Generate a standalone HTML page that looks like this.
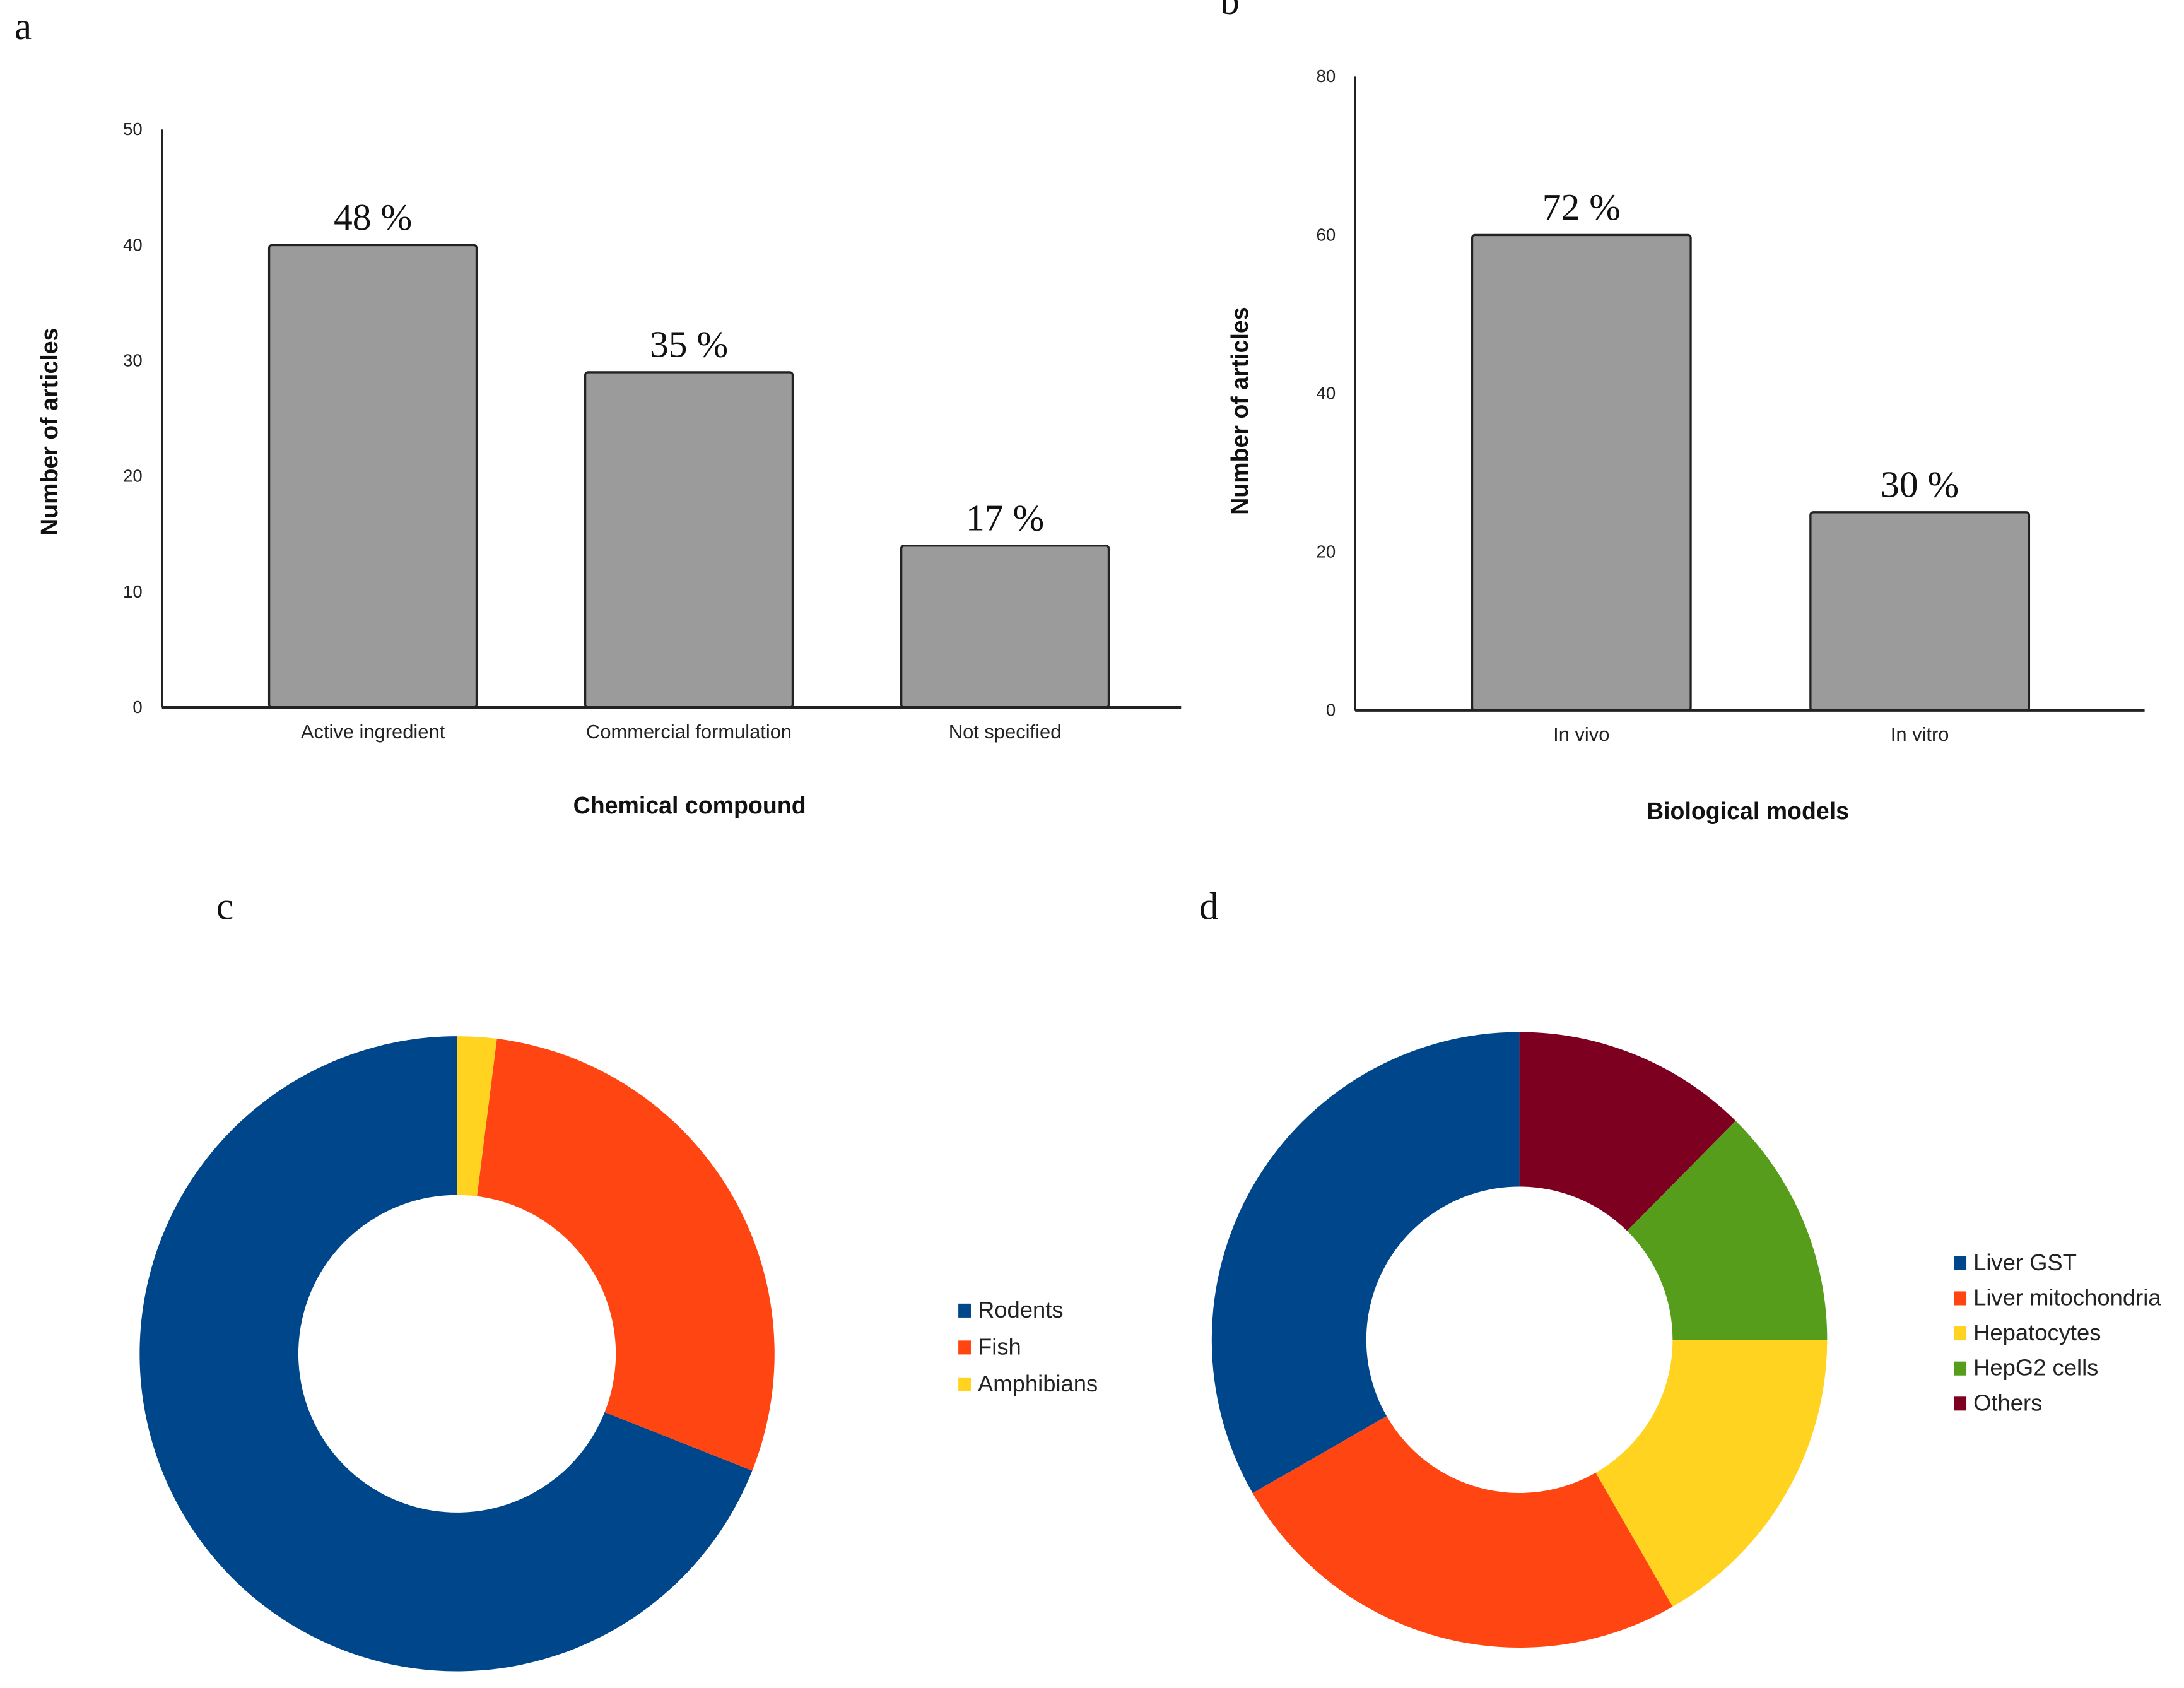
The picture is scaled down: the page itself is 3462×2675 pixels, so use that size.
<!DOCTYPE html>
<html><head><meta charset="utf-8"><style>
html,body{margin:0;padding:0;background:#fff;}
svg{display:block;}
.tk{font-family:"Liberation Sans",sans-serif;font-size:12.5px;fill:#222;}
.at{font-family:"Liberation Sans",sans-serif;font-size:17px;font-weight:bold;fill:#111;}
.xl{font-family:"Liberation Sans",sans-serif;font-size:14px;fill:#222;}
.pl{font-family:"Liberation Serif",serif;font-size:27px;fill:#111;}
.lg{font-family:"Liberation Sans",sans-serif;font-size:16.5px;fill:#222;}
.pn{font-family:"Liberation Serif",serif;font-size:28px;fill:#111;}
</style></head><body>
<svg id="fig" width="3462" height="2675" viewBox="0 0 1568 1212" xmlns="http://www.w3.org/2000/svg">
<rect width="1568" height="1212" fill="#fff"/>
<text class="pn" x="10" y="28">a</text>
<text class="pn" x="876" y="10">b</text>
<text class="pn" x="155" y="660">c</text>
<text class="pn" x="861" y="660">d</text>
<g id="ga"></g>
<g id="gb"></g>
<g id="gc"></g>
<g id="gd"></g>
</svg>
<script>
const aCats = ["Active ingredient","Commercial formulation","Not specified"];
const aVals = [40, 29, 14];
const aPct = ["48 %","35 %","17 %"];
const aTicks = [0,10,20,30,40,50];
const bCats = ["In vivo","In vitro"];
const bVals = [60, 25];
const bPct = ["72 %","30 %"];
const bTicks = [0,20,40,60,80];
const cCats = ["Rodents","Fish","Amphibians"];
const cVals = [69, 29, 2];
const dCats = ["Liver GST","Liver mitochondria","Hepatocytes","HepG2 cells","Others"];
const dVals = [33.3, 25, 16.7, 12.6, 12.4];
const cColors = ["#00468b","#ff4511","#ffd320"];
const dColors = ["#00468b","#ff4511","#ffd320","#579d1c","#7e0021"];
const NS="http://www.w3.org/2000/svg";
function mk(p,tag,at,txt){const e=document.createElementNS(NS,tag);for(const k in at)e.setAttribute(k,at[k]);if(txt!==undefined)e.textContent=txt;p.appendChild(e);return e;}

function bars(g,cfg){
  const y=v=>cfg.y0-(v-cfg.ymin)/(cfg.ymax-cfg.ymin)*(cfg.y0-cfg.ytop);
  const step=(cfg.x1-cfg.x0)/cfg.cats.length;
  const x=i=>cfg.x0+cfg.off+step*i;
  cfg.ticks.forEach(t=>{
    const e=mk(g,'text',{class:'tk',x:cfg.x0-14,y:y(t)+4,'text-anchor':'end'},t);
    
    
  });
  cfg.vals.forEach((v,i)=>{
    const r=mk(g,'rect',{x:x(i),y:y(v),width:cfg.bw,height:cfg.y0-y(v),fill:'#9b9b9b',stroke:'#222','stroke-width':1.5,rx:2});
    
    
    const p=mk(g,'text',{class:'pl',x:x(i)+cfg.bw/2,y:y(v)-11,'text-anchor':'middle'},cfg.pct[i]);
    
    
    const l=mk(g,'text',{class:'xl',x:x(i)+cfg.bw/2,y:cfg.y0+22,'text-anchor':'middle'},cfg.cats[i]);
    
    
  });
  const ya=mk(g,'line',{x1:cfg.x0,y1:cfg.ytop,x2:cfg.x0,y2:cfg.y0,stroke:'#222','stroke-width':1.2});
  
  
  const xa=mk(g,'line',{x1:cfg.x0,y1:cfg.y0,x2:cfg.xe,y2:cfg.y0,stroke:'#222','stroke-width':2});
  
  
  const yt=mk(g,'text',{class:'at',transform:`translate(${cfg.ytx},${cfg.yty}) rotate(-90)`,'text-anchor':'middle'},'Number of articles');
  
  
  const xt=mk(g,'text',{class:'at',x:cfg.xtx,y:cfg.xty,'text-anchor':'middle'},cfg.xtitle);
  
  
}
bars(document.getElementById('ga'),{cats:aCats,vals:aVals,pct:aPct,ticks:aTicks,ymin:0,ymax:50,y0:508,ytop:93,x0:116,x1:797,off:77,bw:149,xe:848,ytx:41,yty:310,xtx:495,xty:584,xtitle:'Chemical compound'});
bars(document.getElementById('gb'),{cats:bCats,vals:bVals,pct:bPct,ticks:bTicks,ymin:0,ymax:80,y0:510,ytop:55,x0:973,x1:973+486,off:84,bw:157,xe:1540,ytx:896,yty:295,xtx:1255,xty:588,xtitle:'Biological models'});

function donut(g,cats,vals,cols,cx,cy,R,r,lx,ly,ldy){
  const tot=vals.reduce((a,b)=>a+b,0);
  let a0=0;
  const pt=(rad,a)=>[cx+rad*Math.sin(a),cy-rad*Math.cos(a)];
  vals.forEach((v,i)=>{
    const a1=a0-v/tot*2*Math.PI;
    const large=(a0-a1)>Math.PI?1:0;
    const [x1,y1]=pt(R,a0),[x2,y2]=pt(R,a1),[x3,y3]=pt(r,a1),[x4,y4]=pt(r,a0);
    const p=mk(g,'path',{d:`M${x1},${y1}A${R},${R} 0 ${large} 0 ${x2},${y2}L${x3},${y3}A${r},${r} 0 ${large} 1 ${x4},${y4}Z`,fill:cols[i]});
    
    
    a0=a1;
    const s=mk(g,'rect',{x:lx,y:ly+ldy*i-9,width:9,height:10,fill:cols[i]});
    
    
    const t=mk(g,'text',{class:'lg',x:lx+14,y:ly+ldy*i+1},cats[i]);
    
    
  });
}
donut(document.getElementById('gc'),cCats,cVals,cColors,328,972,228,114,688,945,26.5);
donut(document.getElementById('gd'),dCats,dVals,dColors,1091,962,221,110,1403,911,25.2);
</script>
</body></html>
